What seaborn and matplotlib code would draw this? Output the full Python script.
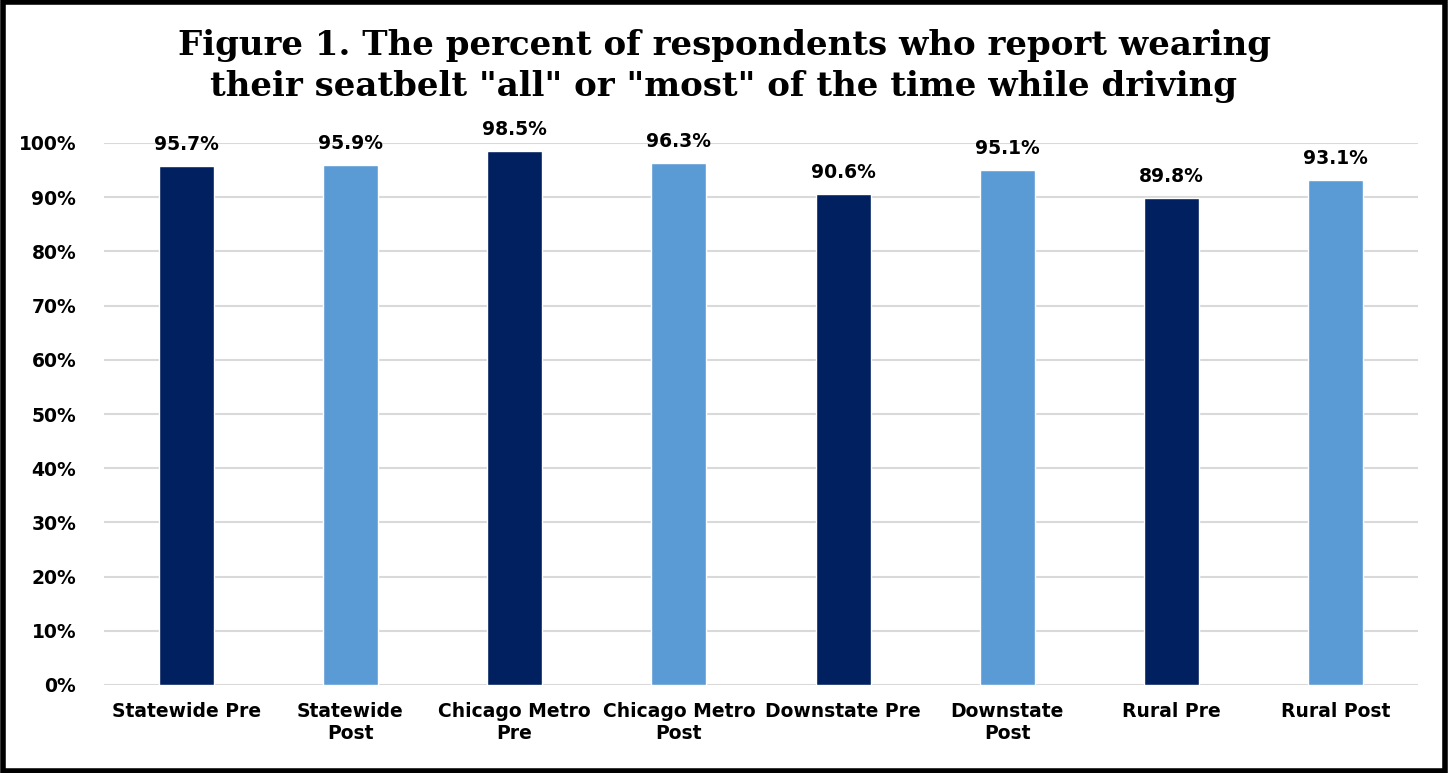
import seaborn as sns
import matplotlib.pyplot as plt
import pandas as pd
from matplotlib.patches import Rectangle
from matplotlib.ticker import PercentFormatter

categories = ["Statewide Pre", "Statewide\nPost", "Chicago Metro\nPre", "Chicago Metro\nPost",
              "Downstate Pre", "Downstate\nPost", "Rural Pre", "Rural Post"]
values = [95.7, 95.9, 98.5, 96.3, 90.6, 95.1, 89.8, 93.1]
phase = ["Pre", "Post", "Pre", "Post", "Pre", "Post", "Pre", "Post"]
palette = {"Pre": "#002060", "Post": "#5B9BD5"}

df = pd.DataFrame({"category": categories, "value": values, "phase": phase})

sns.set_style("white")
plt.rcParams['font.family'] = ['DejaVu Sans']

fig = plt.figure(figsize=(14.48, 7.73), dpi=100)
ax = fig.add_axes([104 / 1448, 1 - 685 / 773, (1418 - 104) / 1448, (685 - 143) / 773])

sns.barplot(data=df, x="category", y="value", hue="phase", palette=palette,
            dodge=False, width=0.335, saturation=1, legend=False, ax=ax, zorder=3)

for i, v in enumerate(values):
    ax.text(i, v + 2.2, f"{v:.1f}%", ha="center", va="bottom",
            fontsize=13.5, fontweight="bold", color="black")

ax.set_ylim(0, 100)
ax.set_yticks(range(0, 101, 10))
ax.yaxis.set_major_formatter(PercentFormatter(decimals=0))
ax.grid(axis="y", color="#D9D9D9", linewidth=1.5, zorder=0)
for s in ax.spines.values():
    s.set_visible(False)
ax.tick_params(axis="both", length=0, labelsize=13.5, colors="black")
ax.tick_params(axis="y", pad=20)
ax.tick_params(axis="x", pad=12)
for lbl in ax.get_xticklabels() + ax.get_yticklabels():
    lbl.set_fontweight("bold")
ax.set_xlabel("")
ax.set_ylabel("")

fig.text(0.5, 0.962, 'Figure 1. The percent of respondents who report wearing\n'
         'their seatbelt "all" or "most" of the time while driving',
         ha="center", va="top", fontsize=24.5, fontweight="bold", color="black",
         family=["DejaVu Serif"], linespacing=1.3)

fig.patches.append(Rectangle((0.002, 0.003), 0.996, 0.994, transform=fig.transFigure,
                             fill=False, edgecolor="black", linewidth=4))

fig.savefig("out.png", dpi=100)
